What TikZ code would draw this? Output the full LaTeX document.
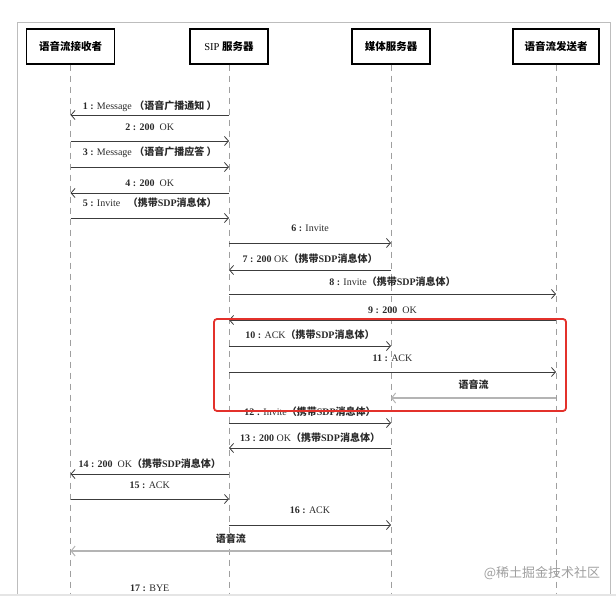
\documentclass[tikz,border=0pt]{standalone}
\usepackage{fontspec}
\setmainfont{Liberation Serif}
\newfontfamily\cjk{Noto Sans CJK SC}
\usetikzlibrary{arrows.meta,calc}
\newcommand\zh[1]{{\cjk\bfseries #1}}
\newcommand\sdpx{\zh{（携带}\textbf{SDP}\zh{消息体）}}
\definecolor{linegray}{HTML}{3C3C3C}
\definecolor{voicegray}{HTML}{B4B4B4}
\definecolor{framegray}{HTML}{BDBDBD}
\definecolor{hlred}{HTML}{E3312B}
\definecolor{txt}{HTML}{2A2A2A}
\newcommand\msgline[6]{%
  \draw[msg] (#3 |- 0,#2) -- (#4 |- 0,#2);
  \node[lbl] (#1) at ($(#3 |- 0,#5)!0.5!(#4 |- 0,#5)$) {#6};}
\begin{document}
\begin{tikzpicture}[x=1pt,y=-1pt,
  head/.style={draw=black,line width=1.1pt,minimum width=#1,minimum height=35pt,inner sep=0pt,font=\fontsize{10.5}{12}\selectfont},
  life/.style={draw=gray!75,line width=0.8pt,dash pattern=on 6pt off 5pt},
  msg/.style={draw=linegray,line width=0.8pt,-{Straight Barb[length=4pt,width=9pt,line width=0.8pt]}},
  voice/.style={draw=voicegray,line width=1.6pt,-{Straight Barb[length=4pt,width=10pt,line width=1pt]}},
  lbl/.style={font=\fontsize{10}{12}\selectfont,inner sep=0pt,text=txt},
  hl/.style={draw=hlred,line width=1.8pt,rounded corners=3pt},
  frame/.style={draw=framegray,line width=0.8pt}
]
\useasboundingbox (0,0) rectangle (616,596);
\begin{scope}
\clip (0,0) rectangle (616,594);
\draw[frame] (17,22) rectangle (610,640);

\node[head=88pt] (A) at (70.5,46.5) {\zh{语音流接收者}};
\node[head=78pt] (B) at (229,46.5) {SIP \zh{服务器}};
\node[head=78pt] (C) at (391,46.5) {\zh{媒体服务器}};
\node[head=86pt] (D) at (556,46.5) {\zh{语音流发送者}};

\foreach \n in {A,B,C,D}{\draw[life] (\n.south) -- (\n.south |- 0,640);}

\msgline{l1}{115}{B}{A}{106}{\textbf{1 :} Message \zh{（语音广播通知 ）}}
\msgline{l2}{141}{A}{B}{127}{\textbf{2 : 200}\ \ OK}
\msgline{l3}{167}{A}{B}{152}{\textbf{3 :} Message \zh{（语音广播应答 ）}}
\msgline{l4}{193}{B}{A}{183}{\textbf{4 : 200}\ \ OK}
\msgline{l5}{218}{A}{B}{203}{\textbf{5 :} Invite\ \ \ \sdpx}
\msgline{l6}{243}{B}{C}{228}{\textbf{6 :} Invite}
\msgline{l7}{270}{C}{B}{259}{\textbf{7 : 200} OK\sdpx}
\msgline{l8}{294}{B}{D}{282}{\textbf{8 :} Invite\sdpx}
\msgline{l9}{320}{D}{B}{310}{\textbf{9 : 200}\ \ OK}
\msgline{l10}{346}{B}{C}{335}{\textbf{10 :} ACK\sdpx}
\msgline{l11}{372}{B}{D}{358}{\textbf{11 :} ACK}
\draw[voice] (D |- 0,398) -- (C |- 0,398);
\node[lbl] (v1) at ($(D |- 0,385)!0.5!(C |- 0,385)$) {\zh{语音流}};
\msgline{l12}{423}{B}{C}{412}{\textbf{12 :} Invite\sdpx}
\msgline{l13}{448}{C}{B}{438}{\textbf{13 : 200} OK\sdpx}
\msgline{l14}{474}{B}{A}{464}{\textbf{14 : 200}\ \ OK\sdpx}
\msgline{l15}{499}{A}{B}{485}{\textbf{15 :} ACK}
\msgline{l16}{525}{B}{C}{510}{\textbf{16 :} ACK}
\draw[voice] (C |- 0,551) -- (A |- 0,551);
\node[lbl] (v2) at ($(A |- 0,539)!0.5!(C |- 0,539)$) {\zh{语音流}};
\node[lbl] (l17) at ($(A |- 0,588)!0.5!(B |- 0,588)$) {\textbf{17 :} BYE};

\draw[hl] (214,319) rectangle (566,411);

\node[font=\cjk\fontsize{13}{14}\selectfont,text=gray!75,inner sep=0pt] (wm) at (542,573) {@稀土掘金技术社区};
\end{scope}
\fill[gray!20] (0,594) rectangle (616,596);
\end{tikzpicture}
\end{document}
